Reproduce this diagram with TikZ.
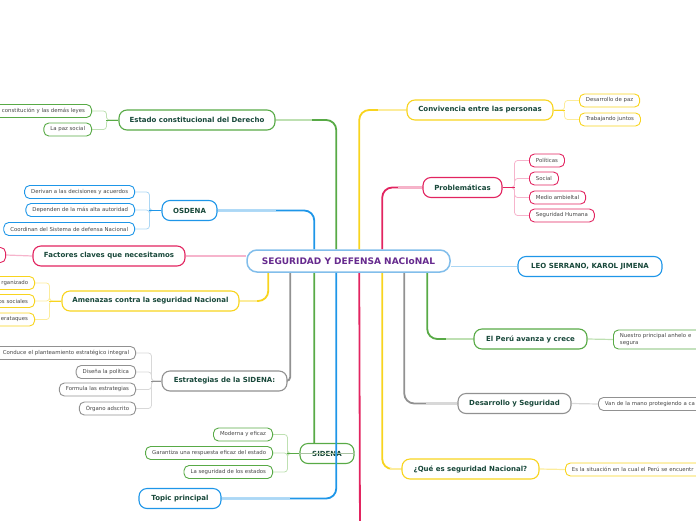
\documentclass[tikz,border=0pt]{standalone}
\usepackage{fontspec}
\setmainfont{DejaVu Sans}
\usetikzlibrary{calc,backgrounds}

\definecolor{mgreen}{RGB}{88,170,70}
\definecolor{lgreen}{RGB}{190,224,178}
\definecolor{mblue}{RGB}{30,150,232}
\definecolor{lblue}{RGB}{172,215,244}
\definecolor{mpink}{RGB}{226,36,96}
\definecolor{lpink}{RGB}{246,180,204}
\definecolor{myellow}{RGB}{248,212,30}
\definecolor{lyellow}{RGB}{252,236,155}
\definecolor{mgray}{RGB}{145,145,145}
\definecolor{lgray}{RGB}{216,216,216}
\definecolor{cenblue}{RGB}{130,190,235}
\definecolor{labelgreen}{RGB}{24,72,58}
\definecolor{cenpurple}{RGB}{102,42,142}

\tikzset{
  mainbox/.style = {draw, fill=white, rounded corners=8pt, line width=1.1pt,
    minimum height=20pt, inner xsep=8pt, text=labelgreen,
    font=\fontsize{7}{8}\selectfont\bfseries},
  leafbox/.style = {draw, fill=white, rounded corners=5pt, line width=0.9pt,
    minimum height=13pt, inner xsep=6.5pt, inner ysep=1pt, text=black!72,
    font=\fontsize{5.4}{7}\selectfont},
  trunk/.style = {line width=1.8pt, rounded corners=10pt},
  bracket/.style = {line width=0.8pt, rounded corners=3pt}
}

% trunk from a topic to the central node, light near the topic
\newcommand{\branchlink}[4]{%
  \draw[#3, trunk] (#1) -| (#2);
  \draw[#4, line width=1.8pt] (#1) -- ($(#1)!.6!(#1 -| #2)$);
}

\begin{document}
\begin{tikzpicture}[x=1pt, y=-1pt]
\useasboundingbox (0,0) rectangle (696,520);

% central topic
\node[draw=cenblue, line width=1.5pt, fill=white, rounded corners=10pt,
  minimum width=203pt, minimum height=22pt, text=cenpurple,
  font=\fontsize{9}{10}\selectfont\bfseries] (cen) at (348.5,261)
  {SEGURIDAD Y DEFENSA NACIoNAL};

% where the trunks meet the central topic
\coordinate (t315) at ([xshift=68pt]cen.north west);
\coordinate (t337) at ([xshift=90pt]cen.north west);
\coordinate (t360) at ([xshift=113pt]cen.north west);
\coordinate (t383) at ([xshift=136pt]cen.north west);
\coordinate (b269) at ([xshift=22pt]cen.south west);
\coordinate (b291) at ([xshift=44pt]cen.south west);
\coordinate (b315) at ([xshift=68pt]cen.south west);
\coordinate (b337) at ([xshift=90pt]cen.south west);
\coordinate (b360) at ([xshift=113pt]cen.south west);
\coordinate (b383) at ([xshift=136pt]cen.south west);
\coordinate (b405) at ([xshift=158pt]cen.south west);
\coordinate (b428) at ([xshift=181pt]cen.south west);
\coordinate (bajo) at (360,540);

% main topics, left
\node[mainbox, draw=mgreen, minimum width=156pt] (estado) at (197,120) {Estado constitucional del Derecho};
\node[mainbox, draw=mblue, minimum width=55pt] (osdena) at (189.5,210.5) {OSDENA};
\node[mainbox, draw=mpink, minimum width=152pt] (factores) at (109,256) {Factores claves que necesitamos};
\node[mainbox, draw=myellow, minimum width=177pt] (amenazas) at (150.5,301) {Amenazas contra la seguridad Nacional};
\node[mainbox, draw=mgray, minimum width=125pt] (estrategias) at (224.5,381) {Estrategias de la SIDENA:};
\node[mainbox, draw=mgreen, minimum width=54pt] (sidena) at (327,453.5) {SIDENA};
\node[mainbox, draw=mblue, minimum width=82pt] (principal) at (180,498.5) {Topic principal};

% main topics, right
\node[mainbox, draw=myellow, minimum width=146pt] (convivencia) at (480,110) {Convivencia entre las personas};
\node[mainbox, draw=mpink, minimum width=79pt] (problemas) at (462.5,187.5) {Problemáticas};
\node[mainbox, draw=mblue, minimum width=144pt] (autores) at (590,266.5) {LEO SERRANO, KAROL JIMENA};
\node[mainbox, draw=mgreen, minimum width=113pt] (peru) at (530.5,339) {El Perú avanza y crece};
\node[mainbox, draw=mgray, minimum width=113pt] (desarrollo) at (514.5,403.5) {Desarrollo y Seguridad};
\node[mainbox, draw=myellow, minimum width=137pt] (quees) at (470.5,469) {¿Qué es seguridad Nacional?};

% leaves, left
\node[leafbox, draw=mgreen, anchor=east, text width=90pt, align=right] (leyes) at (92,111) {constitución y las demás leyes};
\node[leafbox, draw=mgreen, anchor=east] (paz) at (92,129.5) {La paz social};
\node[leafbox, draw=mblue, anchor=east] (derivan) at (135,192) {Derivan a las decisiones y acuerdos};
\node[leafbox, draw=mblue, anchor=east] (dependen) at (135,210) {Dependen de la más alta autoridad};
\node[leafbox, draw=mblue, anchor=east] (coordinan) at (135,229) {Coordinan del Sistema de defensa Nacional};
\node[leafbox, draw=mpink, anchor=east, text width=40pt, minimum height=15pt] (claves) at (6,255) {};
\node[leafbox, draw=myellow, anchor=east, text width=40pt, align=right] (crimen) at (35,283) {rganizado};
\node[leafbox, draw=myellow, anchor=east, text width=40pt, align=right] (conflictos) at (35,301) {os sociales};
\node[leafbox, draw=myellow, anchor=east, text width=40pt, align=right] (ciber) at (35,319.5) {erataques};
\node[leafbox, draw=mgray, anchor=east, text width=135pt, align=right] (conduce) at (136,353) {Conduce el planteamiento estratégico integral};
\node[leafbox, draw=mgray, anchor=east] (disena) at (136,372) {Diseña la política};
\node[leafbox, draw=mgray, anchor=east] (formula) at (136,389.5) {Formula las estrategias};
\node[leafbox, draw=mgray, anchor=east] (organo) at (136,408.5) {Órgano adscrito};
\node[leafbox, draw=mgreen, anchor=east] (moderna) at (273,434.5) {Moderna y eficaz};
\node[leafbox, draw=mgreen, anchor=east] (garantiza) at (273,453) {Garantiza una respuesta eficaz del estado};
\node[leafbox, draw=mgreen, anchor=east] (estados) at (273,472) {La seguridad de los estados};

% leaves, right
\node[leafbox, draw=myellow, anchor=west] (pazdes) at (579,100.5) {Desarrollo de paz};
\node[leafbox, draw=myellow, anchor=west] (juntos) at (579,119.5) {Trabajando juntos};
\node[leafbox, draw=mpink, anchor=west] (politicas) at (529,160.5) {Políticas};
\node[leafbox, draw=mpink, anchor=west] (social) at (529,178.5) {Social};
\node[leafbox, draw=mpink, anchor=west] (medio) at (529,197.5) {Medio ambieltal};
\node[leafbox, draw=mpink, anchor=west] (humana) at (529,215.5) {Seguridad Humana};
\node[leafbox, draw=mgreen, anchor=west, text width=100pt, align=left, minimum height=19pt] (anhelo) at (613,339.5) {Nuestro principal anhelo e\\segura};
\node[leafbox, draw=mgray, anchor=west, text width=110pt, align=left] (mano) at (598,404) {Van de la mano protegiendo a ca};
\node[leafbox, draw=myellow, anchor=west, text width=150pt, align=left] (situacion) at (565,469.5) {Es la situación en la cual el Perú se encuentr};

\begin{scope}[on background layer]
  % trunks
  \branchlink{osdena.east}{t315}{mblue}{lblue}
  \branchlink{estado.east}{t337}{mgreen}{lgreen}
  \branchlink{convivencia.west}{t360}{myellow}{lyellow}
  \branchlink{problemas.west}{t383}{mpink}{lpink}
  \branchlink{amenazas.east}{b269}{myellow}{lyellow}
  \branchlink{quees.west}{b383}{myellow}{lyellow}
  \branchlink{desarrollo.west}{b405}{mgray}{lgray}
  \branchlink{peru.west}{b428}{mgreen}{lgreen}
  \draw[mgray, trunk, rounded corners=4pt] (estrategias.east) -| (b291);
  \draw[mgreen, trunk] (b315) |- (sidena.center);
  \draw[mpink, trunk] (b360) -- (bajo);
  \draw[lpink, line width=1.5pt] (factores.east) -- (factores.east -| cen.west);
  \draw[lblue, line width=1.5pt] (autores.west -| cen.east) -- (autores.west);

  % leaves
  \foreach \leaf in {leyes,paz}
    \draw[lgreen, bracket] (estado.west) -- ++(-12,0) |- (\leaf.east);
  \draw[mgreen, bracket] (estado.west) -- ++(-12,0);
  \foreach \leaf in {derivan,dependen,coordinan}
    \draw[lblue, bracket] (osdena.west) -- ++(-12,0) |- (\leaf.east);
  \draw[mblue, bracket] (osdena.west) -- ++(-12,0);
  \draw[lpink, line width=1.2pt] (factores.west) -- (claves.east);
  \foreach \leaf in {crimen,conflictos,ciber}
    \draw[lyellow, bracket] (amenazas.west) -- ++(-12,0) |- (\leaf.east);
  \draw[myellow, bracket] (amenazas.west) -- ++(-12,0);
  \foreach \leaf in {conduce,disena,formula,organo}
    \draw[lgray, bracket] (estrategias.west) -- ++(-10,0) |- (\leaf.east);
  \draw[mgray, bracket] (estrategias.west) -- ++(-10,0);
  \foreach \leaf in {moderna,garantiza,estados}
    \draw[lgreen, bracket] (sidena.west) -- ++(-12,0) |- (\leaf.east);
  \draw[mgreen, bracket] (sidena.west) -- ++(-12,0);
  \foreach \leaf in {pazdes,juntos}
    \draw[lyellow, bracket] (convivencia.east) -- ++(11,0) |- (\leaf.west);
  \draw[myellow, bracket] (convivencia.east) -- ++(11,0);
  \foreach \leaf in {politicas,social,medio,humana}
    \draw[lpink, bracket] (problemas.east) -- ++(12,0) |- (\leaf.west);
  \draw[mpink, bracket] (problemas.east) -- ++(12,0);
  \draw[lgreen, line width=1.2pt] (peru.east) -- (anhelo.west);
  \draw[lgray, line width=1.2pt] (desarrollo.east) -- (mano.west);
  \draw[lyellow, line width=1.2pt] (quees.east) -- (situacion.west);
\end{scope}

% drawn over the nodes
\draw[lgreen!70!gray, line width=0.5pt] (sidena.west) -- (sidena.east);
\branchlink{principal.east}{b337}{mblue}{lblue}
\end{tikzpicture}
\end{document}
